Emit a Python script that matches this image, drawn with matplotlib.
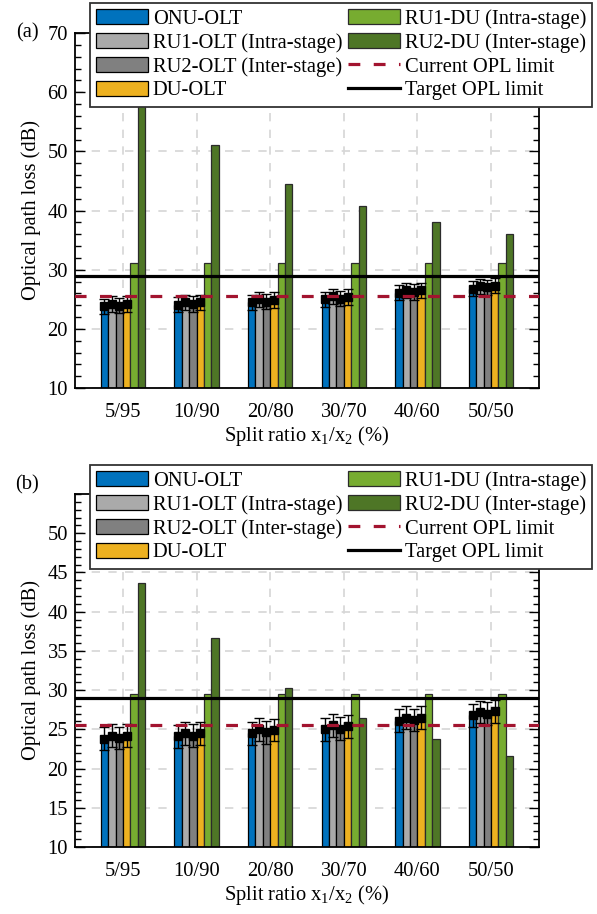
import matplotlib
matplotlib.use("Agg")
import matplotlib.pyplot as plt
from matplotlib.ticker import MultipleLocator
import numpy as np

plt.rcParams['font.family'] = ['Liberation Serif', 'DejaVu Serif']
plt.rcParams['mathtext.fontset'] = 'custom'
plt.rcParams['mathtext.rm'] = 'Liberation Serif'
plt.rcParams['mathtext.it'] = 'Liberation Serif:italic'
FS = 14.8
plt.rcParams['font.size'] = FS

categories = ["5/95", "10/90", "20/80", "30/70", "40/60", "50/50"]
series_names = ["ONU-OLT", "RU1-OLT (Intra-stage)", "RU2-OLT (Inter-stage)", "DU-OLT",
                "RU1-DU (Intra-stage)", "RU2-DU (Inter-stage)"]
colors = ["#0072BD", "#AAAAAA", "#808080", "#EDB120", "#77AC30", "#4E7626"]

onu_olt = [23.8, 24.1, 24.5, 25.0, 26.1, 26.8]
ru1_olt = [24.2, 24.5, 25.0, 25.5, 26.5, 27.2]
ru2_olt = [23.9, 24.2, 24.6, 25.1, 26.2, 27.0]
du_olt = [24.2, 24.5, 24.9, 25.4, 26.5, 27.3]

ru1_du_a = [31.1, 31.1, 31.1, 31.1, 31.1, 31.1]
ru2_du_a = [58.0, 51.0, 44.5, 40.7, 38.1, 36.0]
ru1_du_b = [29.5, 29.5, 29.5, 29.5, 29.5, 29.5]
ru2_du_b = [43.6, 36.6, 30.3, 26.5, 23.8, 21.6]

err_a = 1.3
err_b = 1.45
current_opl = 25.6
target_opl = 29.0

W, H = 597, 914
fig = plt.figure(figsize=(W / 100, H / 100), dpi=100)

def add_ax(l, r, b, t):
    return fig.add_axes([l / W, 1 - b / H, (r - l) / W, (b - t) / H])

ax_a = add_ax(75, 539, 388, 33)
ax_b = add_ax(75, 539, 847, 494)

panels = [
    (ax_a, [onu_olt, ru1_olt, ru2_olt, du_olt, ru1_du_a, ru2_du_a], err_a, (10, 70), 2, range(10, 71, 10), "(a)", 33, 3),
    (ax_b, [onu_olt, ru1_olt, ru2_olt, du_olt, ru1_du_b, ru2_du_b], err_b, (10, 55), 1, range(10, 51, 5), "(b)", 485, 465),
]

x = np.arange(len(categories))
bw = 0.1
for ax, data, err, ylim, minor, ticks, tag, tag_y, leg_top in panels:
    handles = []
    for i, (vals, c, name) in enumerate(zip(data, colors, series_names)):
        pos = x + (i - 2.5) * bw
        ec = 'black' if i < 4 else '#2b2b2b'
        b = ax.bar(pos, vals, width=bw, color=c, edgecolor=ec, linewidth=0.9, label=name, zorder=2)
        handles.append(b)
        if i < 4:
            ax.errorbar(pos, vals, yerr=err, fmt='s', color='black', ms=5.5,
                        capsize=3.8, elinewidth=1.0, capthick=1.0, zorder=3)
    lc, = ax.plot([-1, 7], [current_opl, current_opl], color='#A2142F', lw=2.3,
                  linestyle=(0, (3.7, 4.2)), zorder=4, label='Current OPL limit')
    lt, = ax.plot([-1, 7], [target_opl, target_opl], color='black', lw=2.3,
                  zorder=4, label='Target OPL limit')
    handles += [lc, lt]
    ax.set_xlim(-0.65, 5.65)
    ax.set_ylim(*ylim)
    ax.set_xticks(x)
    ax.set_xticklabels(categories)
    ax.set_yticks(list(ticks))
    ax.yaxis.set_minor_locator(MultipleLocator(minor))
    ax.grid(True, which='major', color='#D6D6D6', linestyle=(0, (5, 5)), linewidth=1.2, zorder=0)
    ax.set_axisbelow(True)
    ax.tick_params(axis='y', which='major', direction='in', length=7, width=1.0, left=True, right=True, pad=5)
    ax.tick_params(axis='y', which='minor', direction='in', length=4, width=1.0, left=True, right=True)
    ax.tick_params(axis='x', which='both', length=0, pad=11)
    for s in ax.spines.values():
        s.set_linewidth(1.3)
    ax.set_ylabel("Optical path loss (dB)", labelpad=5)
    ax.set_xlabel(r"Split ratio x$_1$/x$_2$ (%)", labelpad=1)
    fig.text(27 / W, 1 - tag_y / H, tag, ha='center', va='center', fontsize=FS)
    leg = fig.legend(handles=handles, loc='upper left', bbox_to_anchor=(90 / W, 1 - leg_top / H),
                     ncol=2, frameon=True, fancybox=False, edgecolor='#333333', framealpha=1,
                     fontsize=FS, handlelength=2.5, handleheight=0.75, handletextpad=0.25,
                     columnspacing=0.3, labelspacing=0.2, borderpad=0.3, borderaxespad=0)
    leg.get_frame().set_linewidth(1.3)

fig.savefig("out.png", dpi=100)
